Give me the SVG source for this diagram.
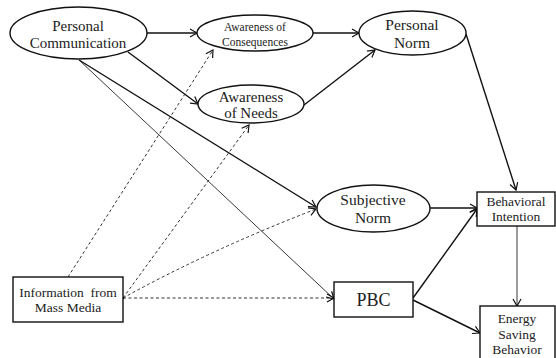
<svg xmlns="http://www.w3.org/2000/svg" width="556" height="358" viewBox="0 0 556 358">
<style>
.n{fill:#fff;stroke:#111;stroke-width:1.4}
.t{font-family:'Liberation Serif','DejaVu Serif',serif;fill:#222;text-anchor:middle}
.s{fill:none;stroke:#111;stroke-width:1.4}
.th{fill:none;stroke:#222;stroke-width:0.9}
.d{fill:none;stroke:#333;stroke-width:1;stroke-dasharray:3,2.5}
</style>
<defs>
<marker id="a" markerWidth="10" markerHeight="10" refX="8" refY="5" orient="auto" markerUnits="userSpaceOnUse">
<path d="M1,1 L8,5 L1,9" fill="none" stroke="#111" stroke-width="1.2"/>
</marker>
</defs>
<rect width="556" height="358" fill="#fff"/>
<g id="connectors">
<path class="s" d="M147,33 L197,33" marker-end="url(#a)"/>
<path class="s" d="M313,33 L359,33" marker-end="url(#a)"/>
<path class="s" d="M304,105 L375,50" marker-end="url(#a)"/>
<path class="s" d="M128,52 L198,104" marker-end="url(#a)"/>
<path class="s" d="M79,60 L316,207" marker-end="url(#a)"/>
<path class="th" d="M79,60 L334,299" marker-end="url(#a)"/>
<path class="s" d="M466,34 L516,190" marker-end="url(#a)"/>
<path class="s" d="M430,208 L477,208" marker-end="url(#a)"/>
<path class="s" d="M413,298 L477,209" marker-end="url(#a)"/>
<path class="s" d="M413,300 L480,333" marker-end="url(#a)"/>
<path class="th" d="M517,226 L517,306" marker-end="url(#a)"/>
<path class="d" d="M68,277 L213,50" marker-end="url(#a)"/>
<path class="d" d="M123,298 L249,125" marker-end="url(#a)"/>
<path class="d" d="M123,298 Q210,250 316,209" marker-end="url(#a)"/>
<path class="d" d="M123,298 L334,298" marker-end="url(#a)"/>
<circle cx="123" cy="298" r="1.3" fill="#111"/>
</g>
<g id="personal-communication">
<ellipse class="n" cx="78.5" cy="33" rx="68.5" ry="26"/>
<text class="t" x="78" y="31" font-size="15">Personal</text>
<text class="t" x="78" y="48" font-size="15">Communication</text>
</g>
<g id="awareness-consequences">
<ellipse class="n" cx="255" cy="33" rx="58" ry="18"/>
<text class="t" x="255" y="31" font-size="11.5">Awareness of</text>
<text class="t" x="255" y="46" font-size="11.5">Consequences</text>
</g>
<g id="awareness-needs">
<ellipse class="n" cx="251" cy="104" rx="53" ry="19"/>
<text class="t" x="251" y="102" font-size="15">Awareness</text>
<text class="t" x="251" y="118" font-size="15">of Needs</text>
</g>
<g id="personal-norm">
<ellipse class="n" cx="412.5" cy="33" rx="53.5" ry="22"/>
<text class="t" x="412" y="29.5" font-size="15.5">Personal</text>
<text class="t" x="412" y="47.5" font-size="15.5">Norm</text>
</g>
<g id="subjective-norm">
<ellipse class="n" cx="373.5" cy="208.5" rx="56.5" ry="23.5"/>
<text class="t" x="373" y="204.5" font-size="15.5">Subjective</text>
<text class="t" x="373" y="222.5" font-size="15.5">Norm</text>
</g>
<g id="behavioral-intention">
<rect class="n" x="477" y="192" width="78" height="34"/>
<text class="t" x="516" y="206" font-size="13.5">Behavioral</text>
<text class="t" x="516" y="221" font-size="13.5">Intention</text>
</g>
<g id="pbc">
<rect class="n" x="334" y="282" width="79" height="35"/>
<text class="t" x="373.5" y="306" font-size="18">PBC</text>
</g>
<g id="energy-saving-behavior">
<rect class="n" x="480" y="306" width="75" height="60"/>
<text class="t" x="517" y="323" font-size="13.5">Energy</text>
<text class="t" x="517" y="339" font-size="13.5">Saving</text>
<text class="t" x="517" y="354" font-size="13.5">Behavior</text>
</g>
<g id="information-mass-media">
<rect class="n" x="13" y="277" width="110" height="45"/>
<text class="t" x="68" y="297" font-size="13.5" xml:space="preserve">Information  from</text>
<text class="t" x="68" y="312" font-size="13.5">Mass Media</text>
</g>
</svg>
